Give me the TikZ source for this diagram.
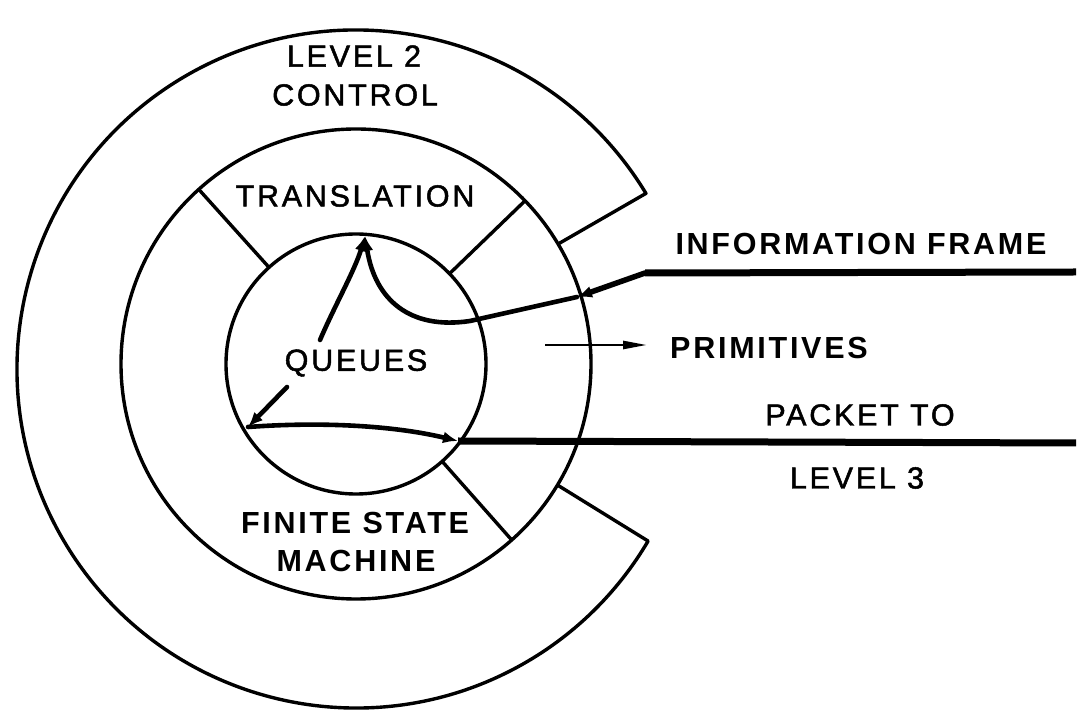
\documentclass[tikz,border=0pt]{standalone}
\usepackage{fontspec}
\setmainfont{Liberation Sans}
\newfontfamily\lab[LetterSpace=9]{Liberation Sans}
\newfontfamily\labm[LetterSpace=9,FakeBold=1.6]{Liberation Sans}
\usetikzlibrary{arrows.meta,calc}

\begin{document}
\begin{tikzpicture}[x=1pt,y=1pt,
  ring/.style={line width=3.4pt, line join=round},
  heavy/.style={line width=7pt},
  flow/.style={line width=4.6pt, line cap=round},
  txt/.style={font=\labm\fontsize{30.5}{34}\selectfont, inner sep=0pt},
  btxt/.style={font=\lab\bfseries\fontsize{30.5}{34}\selectfont, inner sep=0pt},
  tip/.style={-{Latex[length=15pt,width=12pt]}},
]
\useasboundingbox (0,0) rectangle (1078,717);
\coordinate (O) at (356,353);
\coordinate (C) at (356,348);

% the three rings: queues, the sector ring, and the open outer "C"
\draw[ring] (O) circle[radius=130];
\draw[ring] (O) circle[radius=235];
\draw[ring] ($(O)+(30.7:235)$) -- ($(C)+(31.2:339)$)
  arc[start angle=31.2, end angle=329.5, radius=339] -- ($(O)+(-31:235)$);

% sector dividers of the middle ring
\foreach \a in {132,44,-48.5}
  \draw[ring] ($(O)+(\a:130)$) -- ($(O)+(\a:235)$);

% labels
\node[txt]  (lvl)   at (354,661) {LEVEL 2};
\node[txt]  (ctl)   at (355,622) {CONTROL};
\node[txt]  (trans) at (355,521) {TRANSLATION};
\node[txt]  (queue) at (356,354) {QUEUES};
\node[btxt] (fsm)   at (355,194) {FINITE STATE};
\node[btxt] (mach)  at (356,156) {MACHINE};
\node[btxt] (info)  at (861,473) {INFORMATION FRAME};
\node[btxt, anchor=west] (prim) at (670,369) {PRIMITIVES};
\node[txt]  (pkt)   at (860,302) {PACKET TO};
\node[txt]  (lv3)   at (857,239) {LEVEL 3};

% connector points
\coordinate (a1) at (1076,445);
\coordinate (a2) at (645,444);
\coordinate (a3) at (577,420);
\coordinate (b1) at (470,396);
\coordinate (top) at (365,481);
\coordinate (q1) at (320,377);
\coordinate (d1) at (287,330);
\coordinate (L) at (248,290);
\coordinate (R) at (458,276);
\coordinate (p1) at (1076,274);
\coordinate (m1) at (545,372);
\coordinate (m2) at (647,372);

% information frame coming in and rising to translation
\draw[heavy] (a1) -- (a2);
\draw[line width=5.5pt, line cap=round, tip] (a2) -- (a3);
\draw[flow, tip] (a3) -- (b1) .. controls (410,387) and (375,417) .. (top);
\draw[flow, tip] (q1) .. controls (335,412) and (355,447) .. (top);

% queues down to the state machine and out as a packet
\draw[flow, tip] (d1) -- (L);
\draw[flow, tip] (L) .. controls (330,296) and (400,290) .. (R);
\draw[heavy] (R) -- (p1);

% primitives
\draw[line width=2.6pt, -{Triangle[length=24pt,width=8pt]}] (m1) -- (m2);
\end{tikzpicture}
\end{document}
